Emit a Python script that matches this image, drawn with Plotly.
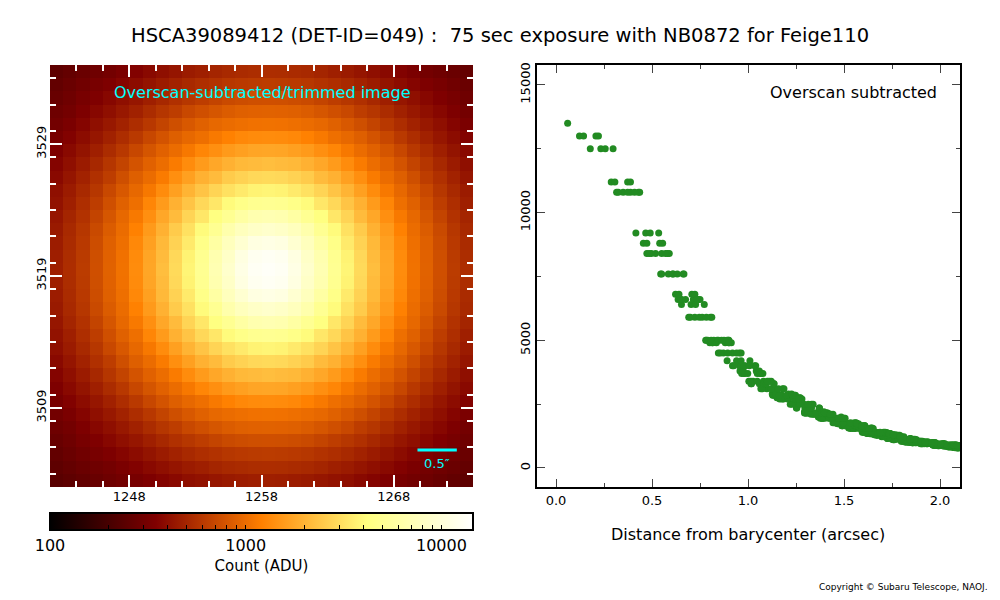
import numpy as np
import plotly.graph_objects as go

# Quadrant of pixel counts (ADU): rows = |dy| pixels, cols = |dx| pixels from the peak pixel
quadrant = [
 [13500,13000,11200,8800,6800,5000,3800,2900,2200,1750,1350,1050,900,750,620,540,470],
 [13000,12500,10800,8400,6600,4900,3700,2850,2150,1730,1340,1045,895,745,615,535,465],
 [11200,10800,9200,7600,5900,4500,3400,2700,2100,1650,1300,1020,880,730,605,525,455],
 [8800,8400,7600,6400,5000,4000,3100,2500,1950,1550,1220,990,850,710,590,515,445],
 [6800,6600,5900,5000,4200,3300,2750,2150,1770,1400,1120,950,800,670,565,495,430],
 [5000,4900,4500,4000,3300,2850,2350,1950,1570,1280,1020,890,750,630,545,470,415],
 [3800,3700,3400,3100,2750,2350,2000,1650,1350,1110,950,820,700,590,515,450,400],
 [2900,2850,2700,2500,2150,1950,1650,1390,1150,990,870,745,630,555,485,425,380],
 [2200,2150,2100,1950,1770,1570,1350,1150,1000,895,780,670,585,510,450,400,360],
 [1750,1730,1650,1550,1400,1280,1110,990,895,790,695,600,530,470,420,380,340],
 [1350,1340,1300,1220,1120,1020,950,870,780,695,605,540,480,430,390,355,320],
 [1050,1045,1020,990,950,890,820,745,670,600,540,485,440,400,365,330,305],
 [900,895,880,850,800,750,700,630,585,530,480,440,400,370,340,310,290],
 [750,745,730,710,670,630,590,555,510,470,430,400,370,345,320,295,275],
 [620,615,605,590,565,545,515,485,450,420,390,365,340,320,300,280,262],
 [540,535,525,515,495,470,450,425,400,380,355,330,310,295,280,265,250],
 [470,465,455,445,430,415,400,380,360,340,320,305,290,275,262,250,238],
]
x_start, y_start, n_pix = 1242.5, 3503.5, 32
peak_pix = (1258.5, 3519.5)
barycenter = (1258.7, 3519.2)
pix_scale = 0.168  # arcsec / pixel
x_ticks = [1248, 1258, 1268]
y_ticks = [3509, 3519, 3529]
cb_major = [100, 1000, 10000]
title = "HSCA39089412 (DET-ID=049) :  75 sec exposure with NB0872 for Feige110"

OFF = 8  # page body margin
def px(x): return (x - OFF) / 1000
def py(y): return 1 - (y - OFF) / 600

xs = x_start + np.arange(n_pix)
ys = y_start + np.arange(n_pix)
q = np.array(quadrant, dtype=float)
img = np.array([[q[int(abs(y - peak_pix[1])), int(abs(x - peak_pix[0]))] for x in xs] for y in ys])

X, Y = np.meshgrid(xs, ys)
dist = np.hypot(X - barycenter[0], Y - barycenter[1]) * pix_scale
sel = dist < 2.15

afmhot = [[0, "rgb(0,0,0)"], [0.25, "rgb(128,0,0)"], [0.5, "rgb(255,128,0)"],
          [0.75, "rgb(255,255,128)"], [1, "rgb(255,255,255)"]]
zmax = np.log10(14500)
cb_vals, cb_text = [], []
for dec in [100, 1000, 10000]:
    for m in range(1, 10):
        v = dec * m
        if v <= 14500:
            cb_vals.append(np.log10(v)); cb_text.append(str(v) if m == 1 and v in cb_major else "")

fig = go.Figure()
fig.add_trace(go.Heatmap(
    x=xs, y=ys, z=np.log10(img), zmin=2, zmax=zmax, colorscale=afmhot,
    xaxis="x", yaxis="y", hoverinfo="skip",
    colorbar=dict(orientation="h", x=px(50), xanchor="left", y=py(513), yanchor="top",
                  len=423, lenmode="pixels", thickness=17, xpad=0, ypad=0,
                  outlinecolor="black", outlinewidth=2,
                  tickvals=cb_vals, ticktext=cb_text, ticks="inside", ticklen=6, tickcolor="black",
                  tickfont=dict(size=16, color="black"),
                  title=dict(text="Count (ADU)", side="bottom", font=dict(size=15)))))
fig.add_trace(go.Scatter(x=dist[sel], y=img[sel], mode="markers", xaxis="x2", yaxis="y2",
                         marker=dict(color="#228B22", size=7), showlegend=False))

ax_img = dict(ticks="inside", tickcolor="white", ticklen=12, tickwidth=2, mirror="ticks",
              showgrid=False, zeroline=False, showline=False, tickfont=dict(size=13, color="black"),
              minor=dict(dtick=2, ticks="inside", ticklen=6, tickcolor="white", tickwidth=1.5))
fig.update_layout(
    width=1000, height=600, margin=dict(l=0, r=0, t=0, b=0, autoexpand=False),
    plot_bgcolor="white", paper_bgcolor="white", font=dict(family="DejaVu Sans", color="black"),
    xaxis=dict(domain=[px(50), px(473)], range=[1242, 1274], tickvals=x_ticks, anchor="y", **ax_img),
    yaxis=dict(domain=[py(487), py(65)], range=[3503, 3535], tickvals=y_ticks, tickangle=-90, anchor="x", **ax_img),
    xaxis2=dict(domain=[px(537), px(960)], range=[-0.099, 2.104], anchor="y2", tickvals=[0, 0.5, 1, 1.5, 2],
                ticktext=["0.0", "0.5", "1.0", "1.5", "2.0"],
                ticks="inside", ticklen=8, mirror="ticks", showline=True, linecolor="black", linewidth=2,
                showgrid=False, zeroline=False, tickfont=dict(size=13),
                minor=dict(dtick=0.25, ticks="inside", ticklen=4)),
    yaxis2=dict(domain=[py(487), py(65)], range=[-745, 15780], anchor="x2", tickvals=[0, 5000, 10000, 15000],
                tickformat="d", tickangle=-90, ticks="inside", ticklen=8, mirror="ticks", showline=True,
                linecolor="black", linewidth=2, showgrid=False, zeroline=False, tickfont=dict(size=13),
                minor=dict(dtick=2500, ticks="inside", ticklen=4)),
    shapes=[dict(type="line", xref="x", yref="y", x0=1269.8, x1=1269.8 + 0.5 / pix_scale,
                 y0=3505.8, y1=3505.8, line=dict(color="cyan", width=3))],
    annotations=[
        dict(text=title, x=px(500), y=py(36), xref="paper", yref="paper", xanchor="center", yanchor="middle",
             showarrow=False, font=dict(size=19.5)),
        dict(text="Overscan-subtracted/trimmed image", x=px(262), y=py(93), xref="paper", yref="paper",
             xanchor="center", yanchor="middle", showarrow=False, font=dict(size=16, color="cyan")),
        dict(text="0.5″", x=1271.3, y=3504.8, xref="x", yref="y", xanchor="center", showarrow=False,
             font=dict(size=13, color="cyan")),
        dict(text="Overscan subtracted", x=px(853), y=py(92), xref="paper", yref="paper", xanchor="center",
             yanchor="middle", showarrow=False, font=dict(size=16)),
        dict(text="Distance from barycenter (arcsec)", x=px(748), y=py(534), xref="paper", yref="paper",
             xanchor="center", yanchor="middle", showarrow=False, font=dict(size=16)),
        dict(text="Copyright © Subaru Telescope, NAOJ.", x=px(990), y=py(587), xref="paper", yref="paper",
             xanchor="right", yanchor="middle", showarrow=False, font=dict(size=9)),
    ],
)
fig.write_html("out.html")
